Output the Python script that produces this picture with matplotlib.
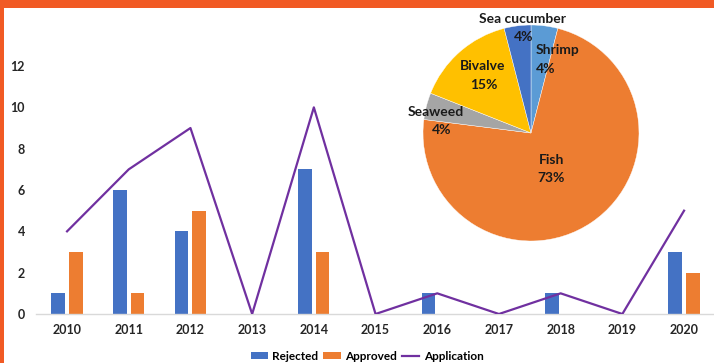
import matplotlib
matplotlib.use("Agg")
import matplotlib.pyplot as plt
import numpy as np
from matplotlib.patches import Rectangle, Patch
from matplotlib.lines import Line2D

plt.rcParams['font.family'] = ['Lato', 'DejaVu Sans']

years = ['2010', '2011', '2012', '2013', '2014', '2015', '2016', '2017', '2018', '2019', '2020']
rejected = [1, 6, 4, 0, 7, 0, 1, 0, 1, 0, 3]
approved = [3, 1, 5, 0, 3, 0, 0, 0, 0, 0, 2]
application = [4, 7, 9, 0, 10, 0, 1, 0, 1, 0, 5]

pie_labels = ['Shrimp', 'Fish', 'Seaweed', 'Bivalve', 'Sea cucumber']
pie_values = [4, 73, 4, 15, 4]
pie_colors = ['#5B9BD5', '#ED7D31', '#A5A5A5', '#FFC000', '#4472C4']

W, H = 714, 363
fig = plt.figure(figsize=(W / 100, H / 100), dpi=100)
fig.patch.set_facecolor('white')

# orange frame (top and left)
border = '#F15A24'
fig.patches.append(Rectangle((0, 1 - 8 / H), 1, 8 / H, transform=fig.transFigure,
                             facecolor=border, edgecolor='none', zorder=0))
fig.patches.append(Rectangle((0, 0), 4 / W, 1, transform=fig.transFigure,
                             facecolor=border, edgecolor='none', zorder=0))

ax = fig.add_axes([36.2 / W, 49 / H, 678.7 / W, 289.3 / H])
x = np.arange(len(years))
bw = 0.22
off = 0.143
ax.bar(x - off, rejected, bw, color='#4472C4', zorder=2)
ax.bar(x + off, approved, bw, color='#ED7D31', zorder=2)
ax.plot(x, application, color='#7030A0', lw=1.6, zorder=3)

ax.set_xlim(-0.5, len(years) - 0.5)
ax.set_ylim(0, 14)
ax.set_yticks([0, 2, 4, 6, 8, 10, 12])
ax.set_xticks(x)
ax.set_xticklabels(years)
for s in ['top', 'right', 'left']:
    ax.spines[s].set_visible(False)
ax.spines['bottom'].set_color('#D9D9D9')
ax.spines['bottom'].set_linewidth(1.0)
ax.tick_params(axis='both', length=0, labelsize=9, colors='#262626')
ax.tick_params(axis='y', pad=8)
ax.tick_params(axis='x', pad=7)
for lab in ax.get_xticklabels() + ax.get_yticklabels():
    lab.set_fontweight('bold')
ax.patch.set_alpha(0)

handles = [Patch(facecolor='#4472C4', label='Rejected'),
           Patch(facecolor='#ED7D31', label='Approved'),
           Line2D([0], [0], color='#7030A0', lw=1.6, label='Application')]
fig.legend(handles=handles, loc='center', bbox_to_anchor=(367 / W, 1 - 356 / H),
           ncol=3, frameon=False, prop={'weight': 'bold', 'size': 8.5},
           handlelength=1.5, handleheight=0.6, columnspacing=0.4, handletextpad=0.35)

# pie
R = 108
cx, cy = 531, 133
pax = fig.add_axes([(cx - R) / W, (H - cy - R) / H, 2 * R / W, 2 * R / H])
pax.pie(pie_values, colors=pie_colors, startangle=90, counterclock=False,
        wedgeprops=dict(linewidth=0.3, edgecolor='white'))
pax.set_xlim(-1, 1)
pax.set_ylim(-1, 1)
pax.set_aspect('auto')

label_pos = {
    'Sea cucumber': ((-0.08, 1.06), (-0.07, 0.89)),
    'Shrimp': ((0.25, 0.77), (0.14, 0.59)),
    'Bivalve': ((-0.45, 0.62), (-0.44, 0.44)),
    'Seaweed': ((-0.88, 0.19), (-0.83, 0.03)),
    'Fish': ((0.19, -0.25), (0.19, -0.42)),
}
for name, val in zip(pie_labels, pie_values):
    (lx, ly), (px, py) = label_pos[name]
    pax.text(lx, ly, name, ha='center', va='center', fontsize=10, fontweight='bold',
             color='#1a1a1a', clip_on=False)
    pax.text(px, py, f'{val}%', ha='center', va='center', fontsize=10, fontweight='bold',
             color='#1a1a1a', clip_on=False)

fig.savefig('out.png', dpi=100)
